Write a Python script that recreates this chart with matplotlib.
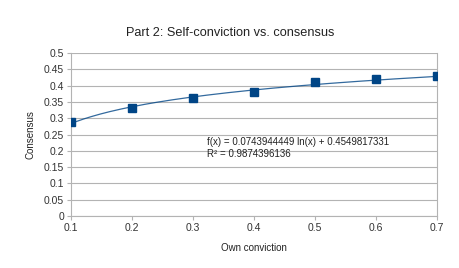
import matplotlib.pyplot as plt
import numpy as np

plt.rcParams['font.family'] = ['Liberation Sans', 'DejaVu Sans']

# data
own = [0.1, 0.2, 0.3, 0.4, 0.5, 0.6, 0.7]
consensus = [0.290, 0.330, 0.361, 0.381, 0.411, 0.420, 0.430]

# trend line coefficients shown on chart
slope = 0.0743944449
intercept = 0.4549817331
r2 = 0.9874396136

xticks = [0.1, 0.2, 0.3, 0.4, 0.5, 0.6, 0.7]
yticks = [0, 0.05, 0.1, 0.15, 0.2, 0.25, 0.3, 0.35, 0.4, 0.45, 0.5]

grid_col = '#b3b3b3'
blue = '#004586'

fig = plt.figure(figsize=(4.59, 2.68), dpi=100)
ax = fig.add_axes([0.1547, 0.194, 0.7974, 0.608])

xs = np.linspace(own[0], own[-1], 200)
ax.plot(xs, slope * np.log(xs) + intercept, color=blue, lw=0.9, alpha=0.8, zorder=2)
ax.plot(own, consensus, ls='none', marker='s', ms=6, color=blue, zorder=3)

ax.set_xlim(0.1, 0.7)
ax.set_ylim(0, 0.5)
ax.set_xticks(xticks)
ax.set_xticklabels([f'{v:g}' for v in xticks])
ax.set_yticks(yticks)
ax.set_yticklabels([f'{v:g}' for v in yticks])
ax.grid(axis='y', color=grid_col, lw=0.8)
ax.set_axisbelow(True)

for s in ['left', 'bottom', 'right']:
    ax.spines[s].set_color(grid_col)
    ax.spines[s].set_linewidth(0.8)
ax.spines['top'].set_visible(False)
ax.tick_params(axis='both', colors=grid_col, labelcolor='#333333', labelsize=7.5,
               length=3, width=0.8, pad=2)

ax.text(0.323, 0.228, f'f(x) = {slope:.10f} ln(x) + {intercept:.10f}',
        fontsize=7, color='#222222', va='center')
ax.text(0.323, 0.191, f'R² = {r2:.10f}', fontsize=7, color='#222222', va='center')

fig.text(0.501, 0.875, 'Part 2: Self-conviction vs. consensus', ha='center', va='center',
         fontsize=9.2, color='#222222')
ax.set_xlabel('Own conviction', fontsize=7, color='#222222', labelpad=7)
ax.set_ylabel('Consensus', fontsize=7, color='#222222', labelpad=6)

fig.savefig('out.png', dpi=100)
